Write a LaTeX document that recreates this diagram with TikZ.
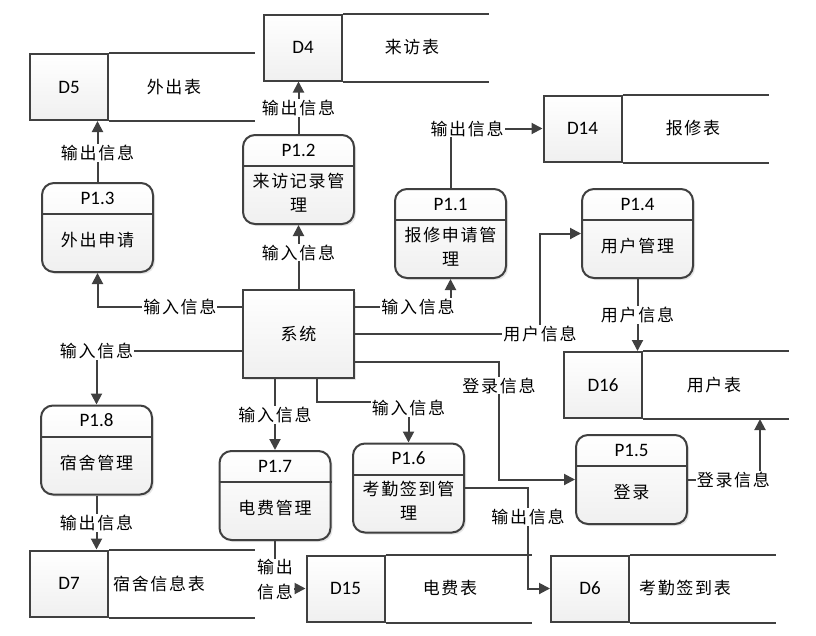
\documentclass[tikz,border=0pt]{standalone}
\usepackage{fontspec}
\setmainfont{Carlito}
\newfontfamily\cjk[LetterSpace=10]{Noto Sans CJK SC}
\usetikzlibrary{arrows.meta}
\usetikzlibrary{shadows}
\definecolor{lineGray}{HTML}{404040}

\begin{document}
\begin{tikzpicture}
[x=1pt,y=-1pt,line width=2pt,draw=lineGray,%
  flowDecorate/.style={-{Triangle[length=11pt,width=11pt]},line width=2pt,draw=lineGray},%
  labelDecorate/.style={fill=white,inner sep=1pt,align=center,font=\cjk\fontsize{17}{25}\selectfont},%
  procDecorate/.style={draw=lineGray,line width=2pt,rounded corners=12pt,minimum width=111pt,minimum height=89pt,top color=white,bottom color=gray!12,drop shadow={opacity=0.2,shadow xshift=2pt,shadow yshift=-2pt}},%
  sysDecorate/.style={draw=lineGray,line width=2pt,minimum width=111pt,minimum height=88pt,top color=white,bottom color=gray!12,drop shadow={opacity=0.2,shadow xshift=2pt,shadow yshift=-2pt},font=\cjk\fontsize{17}{24}\selectfont},%
  storeDecorate/.style={draw=lineGray,line width=2pt,minimum width=78pt,minimum height=66pt,top color=white,bottom color=gray!12,font=\fontsize{19}{22}\selectfont}]
\useasboundingbox (0,0) rectangle (816,635);
%% system
\node[sysDecorate] (sys) at (298.5,334) {系统};
%% processes
\foreach \nodename/\x/\y/\num/\txt in {
  p13/97.5/227.5/P1.3/外出申请, p12/298.5/179.5/P1.2/{来访记录管\\理},
  p11/450.5/233.5/P1.1/{报修申请管\\理}, p14/637.5/233.5/P1.4/用户管理,
  p18/96.5/450/P1.8/宿舍管理, p17/275/495.5/P1.7/电费管理,
  p16/408.5/488/P1.6/{考勤签到管\\理}, p15/631.5/479.5/P1.5/登录}
{
  \node[procDecorate] (\nodename) at (\x,\y) {};
  \draw ([yshift=-32pt]\nodename.north west) -- ([yshift=-32pt]\nodename.north east);
  \node[font=\fontsize{19}{22}\selectfont] at ([yshift=-16pt]\nodename.north) {\num};
  \node[align=center,font=\cjk\fontsize{17}{24}\selectfont] at ([yshift=-13pt]\nodename.center) {\txt};
}
%% data stores
\foreach \nodename/\x/\y/\num/\txt/\tx in {
  d4/303/47.5/D4/来访表/412, d5/69/87/D5/外出表/174,
  d14/582.5/128.5/D14/报修表/693, d16/603/385/D16/用户表/714,
  d7/69/583.5/D7/宿舍信息表/159, d15/345.5/588.5/D15/电费表/450,
  d6/590/588.5/D6/考勤签到表/685}
{
  \node[storeDecorate] (\nodename) at (\x,\y) {\num};
  \draw (\nodename.north east) -- ++(146,0);
  \draw (\nodename.south east) -- ++(146,0);
  \node[font=\cjk\fontsize{17}{24}\selectfont] at (\tx,\y) {\txt};
}
%% flows
\draw[flowDecorate] (sys.north) -- node[labelDecorate,pos=0.57] {输入信息} (p12.south);
\draw[flowDecorate] (p12.north) -- node[labelDecorate] {输出信息} (p12.north |- d4.south);
\draw[flowDecorate] (p13.north) -- node[labelDecorate,pos=0.48] {输出信息} (p13.north |- d5.south);
\draw[flowDecorate] ([yshift=27pt]sys.west) -| node[labelDecorate,pos=0.215] {输入信息} (p13.south);
\draw[flowDecorate] ([yshift=27pt]sys.east) -| node[labelDecorate,pos=0.33] {输入信息} (p11.south);
\draw[flowDecorate] (p11.north) |- node[labelDecorate,pos=0.59] {输出信息} (d14.west);
\draw[flowDecorate] (sys.east) -| node[labelDecorate,pos=0.5] {用户信息} ([xshift=-41pt]p14.west) -- (p14.west);
\draw[flowDecorate] (p14.south) -- node[labelDecorate] {用户信息} (p14.south |- d16.north);
\draw[flowDecorate] ([yshift=-28pt]sys.east) -| node[labelDecorate,pos=0.6] {登录信息} ([xshift=-76pt]p15.west) -- (p15.west);
\draw[flowDecorate] (p15.east) -| node[labelDecorate,pos=0.315] {登录信息} ([xshift=157pt]d16.south);
\draw[flowDecorate] ([yshift=-17pt]sys.west) -| node[labelDecorate,pos=0.5] {输入信息} (p18.north);
\draw[flowDecorate] (p18.south) -- node[labelDecorate,pos=0.51] {输出信息} (p18.south |- d7.north);
\draw[flowDecorate] (p17.north |- sys.south) -- node[labelDecorate,pos=0.51] {输入信息} (p17.north);
\draw[flowDecorate] ([xshift=18.5pt]sys.south) |- ([yshift=41pt]p16.north) -- node[labelDecorate,pos=0.15] {输入信息} (p16.north);
\draw[flowDecorate] (p17.south) |- node[labelDecorate,pos=0.41] {输出\\信息} (d15.west);
\draw[flowDecorate] (p16.east) -| node[labelDecorate,pos=0.644] {输出信息} ([xshift=-22pt]d6.west) -- (d6.west);
\end{tikzpicture}
\end{document}
